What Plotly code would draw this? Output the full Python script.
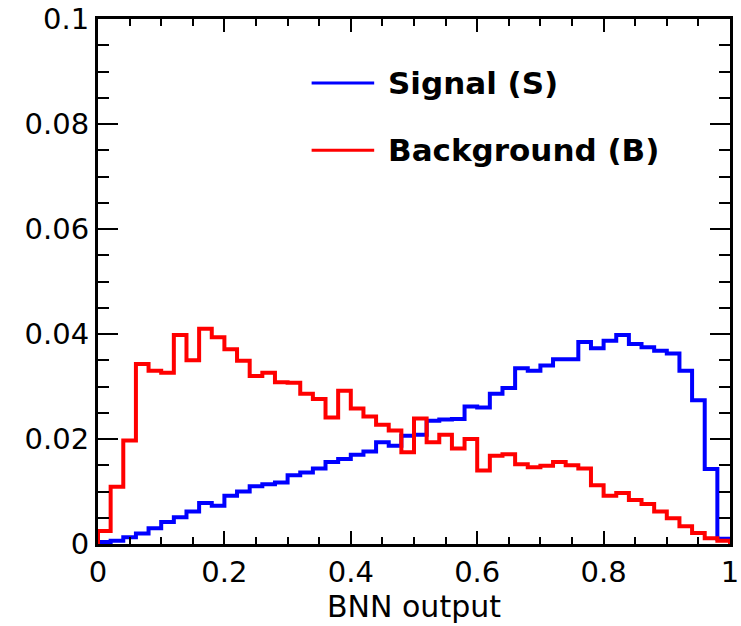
import numpy as np
import plotly.graph_objects as go

# 50 bins of BNN output in [0, 1]
n_bins = 50
bin_edges = np.linspace(0.0, 1.0, n_bins + 1)

signal = [0.0004, 0.0006, 0.0013, 0.0020, 0.0030, 0.0042, 0.0051, 0.0062, 0.0078, 0.0073,
          0.0092, 0.0100, 0.0110, 0.0114, 0.0117, 0.0131, 0.0136, 0.0144, 0.0156, 0.0162,
          0.0170, 0.0176, 0.0194, 0.0187, 0.0206, 0.0208, 0.0235, 0.0237, 0.0238, 0.0262,
          0.0260, 0.0286, 0.0297, 0.0335, 0.0330, 0.0340, 0.0352, 0.0352, 0.0385, 0.0373,
          0.0387, 0.0398, 0.0381, 0.0375, 0.0368, 0.0363, 0.0330, 0.0274, 0.0143, 0.0010]

background = [0.0025, 0.0109, 0.0197, 0.0343, 0.0330, 0.0326, 0.0398, 0.0350, 0.0410, 0.0394,
              0.0371, 0.0349, 0.0320, 0.0326, 0.0308, 0.0307, 0.0286, 0.0276, 0.0241, 0.0292,
              0.0258, 0.0243, 0.0227, 0.0216, 0.0175, 0.0239, 0.0194, 0.0208, 0.0182, 0.0200,
              0.0140, 0.0168, 0.0171, 0.0152, 0.0146, 0.0149, 0.0156, 0.0150, 0.0144, 0.0112,
              0.0092, 0.0097, 0.0084, 0.0076, 0.0062, 0.0049, 0.0034, 0.0021, 0.0011, 0.0006]

series_names = ["Signal (S)", "Background (B)"]
series_colors = ["#0000ff", "#ff0000"]

y_tick_vals = [0, 0.02, 0.04, 0.06, 0.08, 0.1]
y_tick_text = ["0", "0.02", "0.04", "0.06", "0.08", "0.1"]
x_tick_vals = [0, 0.2, 0.4, 0.6, 0.8, 1.0]
x_tick_text = ["0", "0.2", "0.4", "0.6", "0.8", "1"]


def step_xy(vals):
    xs = [bin_edges[0]] + list(bin_edges) + [bin_edges[-1]]
    ys = [0.0] + list(vals) + [vals[-1], 0.0]
    return xs, ys


fig = go.Figure()
for vals, name, col in [(signal, series_names[0], series_colors[0]),
                        (background, series_names[1], series_colors[1])]:
    xs, ys = step_xy(vals)
    fig.add_trace(go.Scatter(x=xs, y=ys, mode="lines", name=name,
                             line=dict(color=col, width=4, shape="hv"),
                             showlegend=False))

# Legend drawn as lines + bold text
legend_rows = [(0.878, series_names[0], series_colors[0]),
               (0.750, series_names[1], series_colors[1])]
for ypos, name, col in legend_rows:
    fig.add_shape(type="line", xref="paper", yref="paper",
                  x0=0.338, x1=0.437, y0=ypos, y1=ypos,
                  line=dict(color=col, width=3))
    fig.add_annotation(xref="paper", yref="paper", x=0.456, y=ypos,
                       text="<b>%s</b>" % name, showarrow=False,
                       xanchor="left", yanchor="middle",
                       font=dict(family="DejaVu Sans", size=31, color="black"))

axis_common = dict(showgrid=False, zeroline=False, showline=True, linecolor="black",
                   linewidth=3, mirror="ticks", ticks="inside", tickcolor="black",
                   tickwidth=2, automargin=False, ticklabeloverflow="allow",
                   tickfont=dict(family="DejaVu Sans", size=29, color="black"))

fig.update_layout(
    width=741, height=626,
    margin=dict(l=98, r=11, t=19, b=82),
    plot_bgcolor="white", paper_bgcolor="white",
    xaxis=dict(range=[0, 1], tickvals=x_tick_vals, ticktext=x_tick_text, ticklen=13,
               minor=dict(dtick=0.05, ticklen=7, ticks="inside", tickcolor="black", tickwidth=2),
               title=dict(text="BNN output", font=dict(family="DejaVu Sans", size=30, color="black"),
                          standoff=0),
               **axis_common),
    yaxis=dict(range=[0, 0.1], tickvals=y_tick_vals, ticktext=y_tick_text, ticklen=20,
               minor=dict(dtick=0.005, ticklen=11, ticks="inside", tickcolor="black", tickwidth=2),
               **axis_common),
)

fig.write_html("out.html")
